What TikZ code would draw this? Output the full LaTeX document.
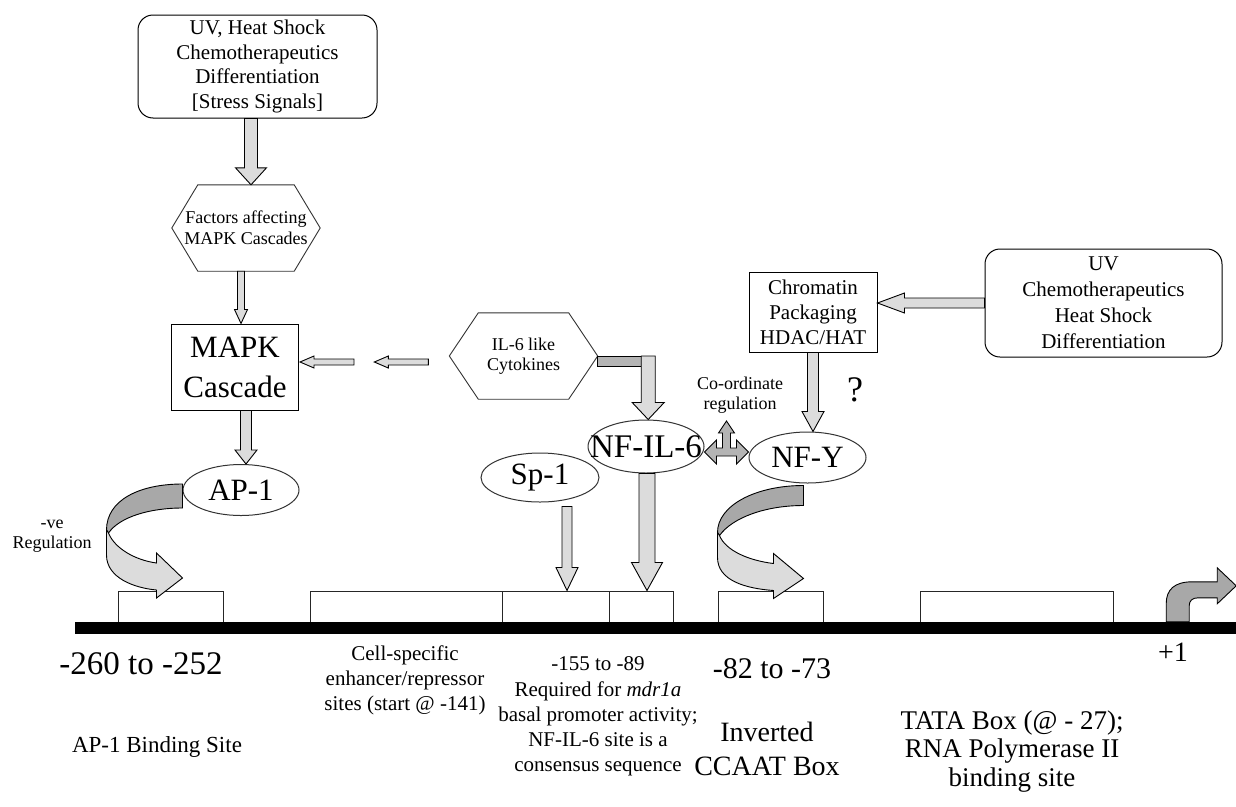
\documentclass[tikz,border=0pt]{standalone}
\usepackage{fontspec}
\setmainfont{Liberation Serif}
\usetikzlibrary{calc,shapes.geometric}
\definecolor{lgray}{HTML}{DCDCDC}
\definecolor{mgray}{HTML}{B4B4B4}
\definecolor{dgray}{HTML}{A8A8A8}
\newcommand\fsz[2]{\fontsize{#1}{#2}\selectfont}
% down block arrow: style, start (top centre), end (tip y), shaft half, head half, head length
\newcommand\dnarrow[6]{\filldraw[#1] let \p1=(#2), \p2=(#3) in
 (\x1-#4pt,\y1) -- (\x1-#4pt,\y2+#6pt) -- (\x1-#5pt,\y2+#6pt) -- (\x1,\y2) --
 (\x1+#5pt,\y2+#6pt) -- (\x1+#4pt,\y2+#6pt) -- (\x1+#4pt,\y1) -- cycle;}
% left block arrow: style, tail, tip, shaft half, head half, head length
\newcommand\lfarrow[6]{\filldraw[#1] let \p1=(#2), \p2=(#3) in
 (\x1,\y1-#4pt) -- (\x2+#6pt,\y1-#4pt) -- (\x2+#6pt,\y1-#5pt) -- (\x2,\y1) --
 (\x2+#6pt,\y1+#5pt) -- (\x2+#6pt,\y1+#4pt) -- (\x1,\y1+#4pt) -- cycle;}
\newcommand\hexof[2]{\draw[hexline] (#1.west) -- ($(#1.north west)+(#2,0)$) -- ($(#1.north east)+(-#2,0)$) -- (#1.east) -- ($(#1.south east)+(-#2,0)$) -- ($(#1.south west)+(#2,0)$) -- cycle;}
\begin{document}
\begin{tikzpicture}[x=1pt,y=-1pt,
  txt/.style={inner sep=0pt, align=center, text=black},
  rbox/.style={draw, line width=1pt, rounded corners=15pt, inner sep=0pt, align=center},
  sbox/.style={draw, line width=1pt, inner sep=0pt, align=center},
  ell/.style={ellipse, draw=black!80, line width=1pt, inner sep=0pt},
  hexn/.style={inner sep=0pt, align=center, minimum width=148pt, minimum height=86pt},
  hexline/.style={draw=black!80, line width=0.9pt},
  site/.style={draw=black!85, line width=1pt, minimum height=31pt, inner sep=0pt},
  blk/.style={fill=lgray, draw=black, line width=0.9pt},
  blkd/.style={fill=dgray, draw=black, line width=0.9pt},
  blkm/.style={fill=mgray, draw=black, line width=0.9pt}]
\useasboundingbox (0,0) rectangle (1236,806);
\fill[white] (0,0) rectangle (1236,806);

% nodes
\node[rbox, minimum width=239pt, minimum height=103pt, font=\fsz{21}{24.5}] (stress) at (257.5,66.5)
  {UV, Heat Shock\\Chemotherapeutics\\Differentiation\\{[Stress Signals]}};
\node[hexn, font=\fsz{18}{21}] (fac) at (246,228) {Factors affecting\\MAPK Cascades};
\hexof{fac}{26}
\node[sbox, minimum width=127pt, minimum height=86pt, font=\fsz{31}{40}] (mapk) at (235,367) {MAPK\\Cascade};
\node[ell, minimum width=116pt, minimum height=51pt, font=\fsz{31}{31}] (ap1) at (241,490) {\makebox[0pt]{AP-1}};
\node[hexn, font=\fsz{18}{20}] (il6) at (523.5,356) {IL-6 like\\Cytokines};
\hexof{il6}{29}
\node[ell, minimum width=116pt, minimum height=53pt, font=\fsz{33}{33}] (nfil6) at (646,446.5) {\makebox[0pt]{NF-IL-6}};
\node[ell, minimum width=117pt, minimum height=51pt, font=\fsz{31}{31}] (nfy) at (807.5,457.5) {\makebox[0pt]{NF-Y}};
\node[ell, minimum width=118pt, minimum height=49pt, font=\fsz{31}{31}] (sp1) at (540,477.5) {\makebox[0pt]{Sp-1}};
\node[sbox, minimum width=128pt, minimum height=80pt, font=\fsz{21}{25}] (chrom) at (813,312) {Chromatin\\Packaging\\HDAC/HAT};
\node[rbox, minimum width=237pt, minimum height=108pt, font=\fsz{21}{26}] (uv) at (1103.5,303)
  {UV\\Chemotherapeutics\\Heat Shock\\Differentiation};

% sites and DNA bar
\node[site, minimum width=105pt] (bap1) at (170.5,606.5) {};
\node[site, minimum width=192pt] (bcell) at (406,606.5) {};
\node[site, minimum width=107pt] (b155) at (555.5,606.5) {};
\node[site, minimum width=64pt] (b89) at (641,606.5) {};
\node[site, minimum width=105pt] (bccaat) at (770.5,606.5) {};
\node[site, minimum width=193pt] (btata) at (1016.5,606.5) {};
\node[fill=black, minimum width=1161pt, minimum height=12pt, inner sep=0pt] (bar) at (655.5,628) {};

% straight block arrows
\dnarrow{blk}{$(stress.south)+(-6.5,0)$}{fac.north}{6.5}{15.5}{17}
\dnarrow{blk}{$(fac.south)+(-5,0)$}{mapk.north}{3.5}{6.5}{14}
\dnarrow{blk}{$(mapk.south)+(11,0)$}{ap1.north}{5.5}{11}{14}
\lfarrow{blk}{$(mapk.east)+(55,-5)$}{$(mapk.east)+(1,-5)$}{3}{6}{14}
\lfarrow{blk}{$(il6.west)+(-21,6)$}{$(il6.west)+(-75,6)$}{3}{6}{14}
\filldraw[blkm] (il6.east) rectangle ($(il6.east)+(44,10)$);
\dnarrow{blk}{$(il6.east)+(50.5,0)$}{nfil6.north}{7}{16}{17}
\lfarrow{blk}{uv.west}{chrom.east}{5}{10}{27}
\dnarrow{blk}{chrom.south}{nfy.north}{5.5}{11}{20}
\dnarrow{blk}{$(sp1.south)+(27,4)$}{b155.north}{5}{11}{23}
\dnarrow{blk}{$(nfil6.south)+(1,0)$}{b89.north}{8}{15.5}{28}

% co-ordinate (left-right-up) arrow
\coordinate (mid) at ($(nfil6.east)!0.5!(nfy.west)$);
\begin{scope}[shift={(mid)}]
\filldraw[blkm] (-22,0) -- (-10,-12) -- (-10,-4) -- (-4,-4) -- (-4,-19) -- (-8,-19) -- (0,-31)
  -- (8,-19) -- (4,-19) -- (4,-4) -- (10,-4) -- (10,-12) -- (22,0) -- (10,12) -- (10,4)
  -- (-10,4) -- (-10,12) -- cycle;
\end{scope}

% curved arrow from AP-1
\begin{scope}[shift={(ap1.west)}]
\filldraw[blkd] (0,-6) .. controls (-43,-6) and (-76,10) .. (-76,40) -- (-74,43)
  .. controls (-63,27) and (-33,18) .. (0,18) -- cycle;
\filldraw[blk] (-76,40) -- (-76,65) .. controls (-76,88) and (-48,98) .. (-26,100) -- (-26,108)
  -- (0,88) -- (-26,63) -- (-26,73) .. controls (-48,70) and (-68,58) .. (-74,43) -- cycle;
\end{scope}

% curved arrow from NF-Y
\begin{scope}[shift={($(nfy.south)+(-4,2)$)}]
\filldraw[blkd] (0,0) .. controls (-48,0) and (-86,20) .. (-86,47) -- (-84,50)
  .. controls (-71,32) and (-38,20) .. (0,20) -- cycle;
\filldraw[blk] (-86,47) -- (-86,72) .. controls (-86,95) and (-58,103) .. (-30,105) -- (-30,113)
  -- (0,93) -- (-30,68) -- (-30,78) .. controls (-55,75) and (-78,65) .. (-84,50) -- cycle;
\end{scope}

% +1 bent arrow
\begin{scope}[shift={($(bar.north east)+(-70,0)$)}]
\filldraw[blkd] (0,0) -- (0,-18) .. controls (0,-32) and (8,-40) .. (26,-40) -- (51,-40) -- (51,-54)
  -- (70,-36) -- (51,-18) -- (51,-24) -- (32,-24) .. controls (26,-24) and (23,-21) .. (23,-16)
  -- (23,0) -- cycle;
\end{scope}

% labels
\node[txt, font=\fsz{18}{20}] (ve) at (52,536) {-ve\\Regulation};
\node[txt, font=\fsz{18}{20}] (coord) at (740,395) {Co-ordinate\\regulation};
\node[txt, font=\fsz{36}{36}] (q) at (855,390) {?};
\node[txt, font=\fsz{33}{33}] (l260) at (141,664) {-260 to -252};
\node[txt, font=\fsz{23}{26}] (lap1) at (157,747) {AP-1 Binding Site};
\node[txt, font=\fsz{21}{25}] (lcell) at (405,680) {Cell-specific\\enhancer/repressor\\sites (start @ -141)};
\node[txt, font=\fsz{21}{25.25}] (l155) at (598,716.5) {-155 to -89\\Required for \textit{mdr1a}\\basal promoter activity;\\NF-IL-6 site is a\\consensus sequence};
\node[txt, font=\fsz{30}{30}] (l82) at (772,669) {-82 to -73};
\node[txt, font=\fsz{28}{34}] (linv) at (767,749) {Inverted\\CCAAT Box};
\node[txt, font=\fsz{27}{28.5}] (ltata) at (1012,751.5) {TATA Box (@ - 27);\\RNA Polymerase II\\binding site};
\node[txt, font=\fsz{28}{28}] (lp1) at (1173,652) {+1};
\end{tikzpicture}
\end{document}
